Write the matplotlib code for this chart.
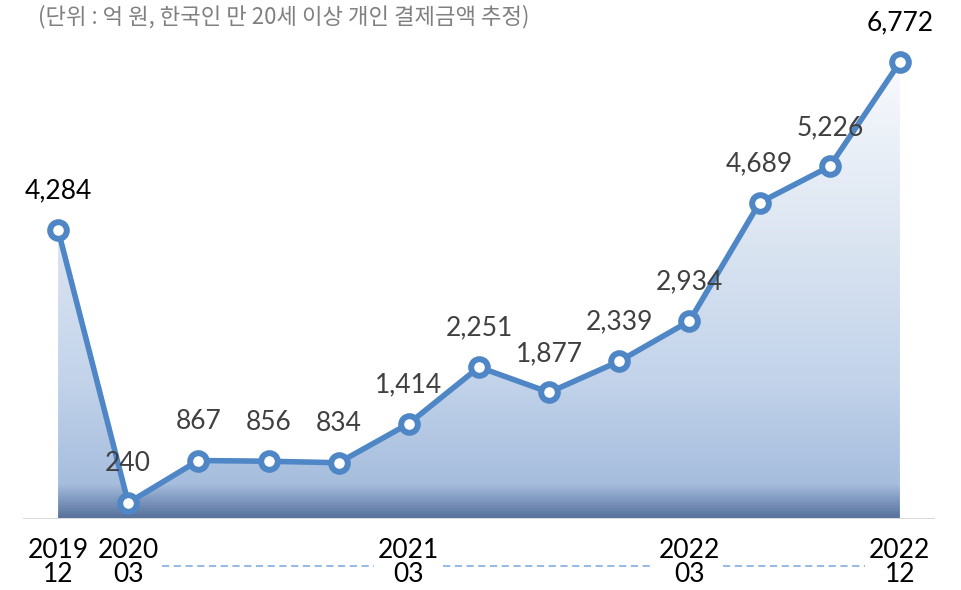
import numpy as np
import matplotlib.pyplot as plt
from matplotlib.colors import LinearSegmentedColormap
from matplotlib.transforms import blended_transform_factory

# Données : paiements trimestriels (억 원)
periodes = ["2019-12", "2020-03", "2020-06", "2020-09", "2020-12", "2021-03", "2021-06",
            "2021-09", "2021-12", "2022-03", "2022-06", "2022-09", "2022-12"]
valeurs = [4284, 240, 867, 856, 834, 1414, 2251, 1877, 2339, 2934, 4689, 5226, 6772]

# Étiquettes de l'axe x affichées
ticks_idx = [0, 1, 5, 9, 12]
ticks_lab = ["2019\n12", "2020\n03", "2021\n03", "2022\n03", "2022\n12"]

titre = "(단위 : 억 원, 한국인 만 20세 이상 개인 결제금액 추정)"

plt.rcParams["font.family"] = ["Lato", "DejaVu Sans"]

x = np.arange(len(valeurs))
y = np.array(valeurs)

fig = plt.figure(figsize=(9.62, 5.9), dpi=100)
ax = fig.add_axes([23 / 962, 71 / 590, 912 / 962, 506 / 590])
ax.set_xlim(-0.5, 12.5)
ax.set_ylim(0, 7500)

# Dégradé sous la courbe
cmap = LinearSegmentedColormap.from_list("grad", [
    (0.0, "#55709a"), (0.035, "#7993bb"), (0.075, "#a6bddd"),
    (0.3, "#c2d3ea"), (0.6, "#dae4f1"), (1.0, "#f8fafd")])
grad = np.linspace(0, 1, 256).reshape(-1, 1)
poly = ax.fill_between(x, 0, y, color="none")
img = ax.imshow(grad, cmap=cmap, origin="lower", aspect="auto",
                extent=(x[0], x[-1], 0, y.max()), zorder=1)
img.set_clip_path(poly.get_paths()[0], transform=ax.transData)

ax.axhline(0, color="#d9d9d9", linewidth=1.5, zorder=2)

ax.plot(x, y, color="#4f86c6", linewidth=4, marker="o", markersize=12,
        markerfacecolor="white", markeredgecolor="#4f86c6", markeredgewidth=4.3,
        zorder=3, clip_on=False)

for i, v in enumerate(valeurs):
    couleur = "#000000" if i in (0, len(valeurs) - 1) else "#404040"
    ax.annotate(f"{v:,}", (x[i], v), xytext=(0, 28), textcoords="offset points",
                ha="center", va="center", fontsize=19, color=couleur)

ax.set_xticks(ticks_idx, ticks_lab)
ax.tick_params(axis="x", length=0, pad=14, labelsize=19, labelcolor="#000000")
for lab in ax.get_xticklabels():
    lab.set_linespacing(0.95)
ax.set_yticks([])
for s in ax.spines.values():
    s.set_visible(False)

# Traits pointillés entre les étiquettes
tr = blended_transform_factory(ax.transData, ax.transAxes)
for a, b in zip(ticks_idx[1:-1], ticks_idx[2:]):
    ax.plot([a + 0.48, b - 0.5], [-0.092, -0.092], transform=tr, color="#8eb4e3",
            linewidth=1.3, linestyle=(0, (4, 2.5)), clip_on=False)

fig.text(38 / 962, 1 - 17 / 590, titre, fontsize=16, color="#808080", va="center",
         family=["Noto Sans CJK KR", "DejaVu Sans"])

fig.savefig("out.png", dpi=100)
